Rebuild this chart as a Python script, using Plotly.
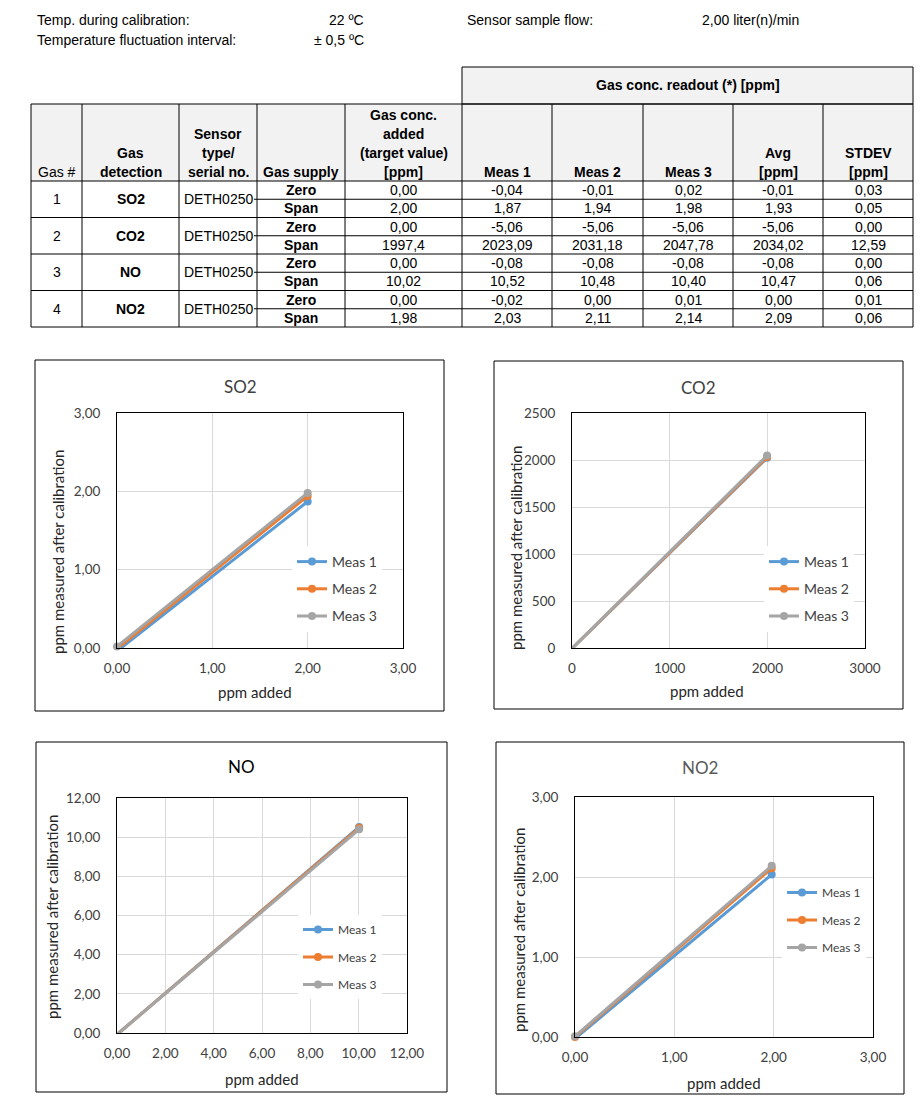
import plotly.graph_objects as go

W, H = 921, 1105


def X(p):
    return p / W


def Y(p):
    return 1 - p / H


# ---------------- data ----------------
info_labels = ["Temp. during calibration:", "Temperature fluctuation interval:"]
info_values = ["22 ºC", "± 0,5 ºC"]
flow_label = "Sensor sample flow:"
flow_value = "2,00 liter(n)/min"

gas_ids = ["1", "2", "3", "4"]
gases = ["SO2", "CO2", "NO", "NO2"]
sensors = ["DETH0250", "DETH0250", "DETH0250", "DETH0250"]
supply = ["Zero", "Span"]

added = [0.00, 2.00, 0.00, 1997.4, 0.00, 10.02, 0.00, 1.98]
meas1 = [-0.04, 1.87, -5.06, 2023.09, -0.08, 10.52, -0.02, 2.03]
meas2 = [-0.01, 1.94, -5.06, 2031.18, -0.08, 10.48, 0.00, 2.11]
meas3 = [0.02, 1.98, -5.06, 2047.78, -0.08, 10.40, 0.01, 2.14]
avg = [-0.01, 1.93, -5.06, 2034.02, -0.08, 10.47, 0.00, 2.09]
stdev = [0.03, 0.05, 0.00, 12.59, 0.00, 0.06, 0.01, 0.06]

series_names = ["Meas 1", "Meas 2", "Meas 3"]
x_max = [3, 3000, 12, 3]
y_max = [3, 2500, 12, 3]
x_step = [1, 1000, 2, 1]
y_step = [1, 500, 2, 1]
x_title = "ppm added"
y_title = "ppm measured after calibration"
readout_title = "Gas conc. readout (*) [ppm]"

# ---------------- styles ----------------
TFONT = "Liberation Sans, Arial, sans-serif"
CFONT = "Lato, Carlito, Calibri, sans-serif"
colors = ["#5B9BD5", "#ED7D31", "#A5A5A5"]
HEADER_FILL = "#F2F2F2"


def fmt2(v):
    return f"{v:.2f}".replace(".", ",")


def fmt_added(v):
    s = f"{v:.1f}" if abs(v) >= 1000 else f"{v:.2f}"
    return s.replace(".", ",")


annotations = []
shapes = []


def txt(x, y, text, size=14, bold=False, xanchor="center", color="#000", family=TFONT, angle=0):
    annotations.append(dict(
        x=X(x), y=Y(y), xref="paper", yref="paper", text=f"<b>{text}</b>" if bold else text,
        showarrow=False, xanchor=xanchor, yanchor="middle", textangle=angle,
        font=dict(family=family, size=size, color=color)))


def line(x0, y0, x1, y1, color="#000", width=1):
    shapes.append(dict(type="line", xref="paper", yref="paper",
                       x0=X(x0), y0=Y(y0), x1=X(x1), y1=Y(y1),
                       line=dict(color=color, width=width)))


def rect(x0, y0, x1, y1, fill=None, color="#000", width=1, layer="above"):
    shapes.append(dict(type="rect", xref="paper", yref="paper",
                       x0=X(x0), y0=Y(y0), x1=X(x1), y1=Y(y1),
                       fillcolor=fill if fill else "rgba(0,0,0,0)",
                       line=dict(color=color, width=width), layer=layer))


# ---------------- top info ----------------
txt(35, 20, info_labels[0], xanchor="left")
txt(35, 40, info_labels[1], xanchor="left")
txt(366, 20, info_values[0], xanchor="right")
txt(366, 40, info_values[1], xanchor="right")
txt(465, 20, flow_label, xanchor="left")
txt(700, 20, flow_value, xanchor="left")

# ---------------- table ----------------
cols = [31, 82, 179, 257, 345, 462, 552, 643, 733, 823, 913]
head_top, head_bot = 104, 181
rh = (327 - 181) / 8
rows = [head_bot + i * rh for i in range(9)]

rect(462, 67, 913, 104, fill=HEADER_FILL, color="rgba(0,0,0,0)", layer="below")
rect(31, 104, 913, 181, fill=HEADER_FILL, color="rgba(0,0,0,0)", layer="below")
rect(462, 67, 913, 104)
rect(31, 104, 913, 327)
for c in cols[1:-1]:
    line(c, head_top, c, 327)
line(31, head_bot, 913, head_bot)
for g in range(1, 4):
    line(31, rows[2 * g], 913, rows[2 * g])
for g in range(4):
    line(254, rows[2 * g + 1], 913, rows[2 * g + 1])

txt((462 + 913) / 2, 85, readout_title, bold=True)


def header_cell(ci, lines, bold=True):
    cx = (cols[ci] + cols[ci + 1]) / 2
    n = len(lines)
    for k, t in enumerate(lines):
        txt(cx, 172 - (n - 1 - k) * 19, t, bold=bold)


header_cell(0, ["Gas #"], bold=False)
header_cell(1, ["Gas", "detection"])
header_cell(2, ["Sensor", "type/", "serial no."])
header_cell(3, ["Gas supply"])
header_cell(4, ["Gas conc.", "added", "(target value)", "[ppm]"])
header_cell(5, ["Meas 1"])
header_cell(6, ["Meas 2"])
header_cell(7, ["Meas 3"])
header_cell(8, ["Avg", "[ppm]"])
header_cell(9, ["STDEV", "[ppm]"])

for g in range(4):
    cy = rows[2 * g + 1]
    txt((cols[0] + cols[1]) / 2, cy, gas_ids[g])
    txt((cols[1] + cols[2]) / 2, cy, gases[g], bold=True)
    txt(218, cy, sensors[g])
for r in range(8):
    cy = (rows[r] + rows[r + 1]) / 2
    txt((cols[3] + cols[4]) / 2, cy, supply[r % 2], bold=True)
    vals = [fmt_added(added[r]), fmt2(meas1[r]), fmt2(meas2[r]), fmt2(meas3[r]),
            fmt2(avg[r]), fmt2(stdev[r])]
    for k, v in enumerate(vals):
        ci = 4 + k
        txt((cols[ci] + cols[ci + 1]) / 2, cy, v)

# ---------------- charts ----------------
charts = [
    dict(frame=(35, 360, 444, 711), plot=(117, 413, 403, 648), title=(240, 386), tcolor="#404040",
         xt=(255, 692), yt=(58, 552), leg=(292, 546), lsize=14, gap=6),
    dict(frame=(494, 361, 903, 709), plot=(572, 413, 865, 648), title=(698, 387), tcolor="#404040",
         xt=(707, 691), yt=(516, 548), leg=(764, 546), lsize=14, gap=6),
    dict(frame=(36, 742, 447, 1092), plot=(117, 798, 407, 1033), title=(241, 766), tcolor="#000000",
         xt=(262, 1079), yt=(52, 917), leg=(298, 915), lsize=12, gap=8.5),
    dict(frame=(496, 742, 904, 1094), plot=(575, 797, 873, 1037), title=(700, 767), tcolor="#595959",
         xt=(724, 1083), yt=(519, 930), leg=(782, 878), lsize=12, gap=8.5),
]

x_data = [[added[2 * g], added[2 * g + 1]] for g in range(4)]
y_data = [[[m[2 * g], m[2 * g + 1]] for m in (meas1, meas2, meas3)] for g in range(4)]

fig = go.Figure()
layout_axes = {}
legends = {}
for g, ch in enumerate(charts):
    sfx = "" if g == 0 else str(g + 1)
    lx0, ly0, lx1, ly1 = ch["plot"]
    legname = "legend" + sfx
    for s in range(3):
        fig.add_trace(go.Scatter(
            x=x_data[g], y=y_data[g][s], name=series_names[s], mode="lines+markers",
            line=dict(color=colors[s], width=3), marker=dict(color=colors[s], size=8),
            xaxis="x" + sfx, yaxis="y" + sfx, legend=legname, legendgroup=f"g{g}s{s}",
            cliponaxis=False))
    fmt = "d" if x_max[g] >= 100 else ".2f"
    yfmt = "d" if y_max[g] >= 100 else ".2f"
    common = dict(showgrid=True, gridcolor="#D9D9D9", gridwidth=1, zeroline=False,
                  showline=True, linecolor="#000", linewidth=1, mirror=True, ticks="",
                  automargin=False,
                  tickfont=dict(family=CFONT, size=13.5, color="#404040"), fixedrange=True)
    layout_axes["xaxis" + sfx] = dict(common, domain=[X(lx0), X(lx1)], range=[0, x_max[g]],
                                      dtick=x_step[g], tick0=0, tickformat=fmt,
                                      anchor="y" + sfx, ticklabelstandoff=8)
    layout_axes["yaxis" + sfx] = dict(common, domain=[Y(ly1), Y(ly0)], range=[0, y_max[g]],
                                      dtick=y_step[g], tick0=0, tickformat=yfmt,
                                      anchor="x" + sfx, ticklabelstandoff=13)
    legends[legname] = dict(x=X(ch["leg"][0]), y=Y(ch["leg"][1]), xanchor="left", yanchor="top",
                            bgcolor="#FFFFFF", borderwidth=0, traceorder="grouped",
                            tracegroupgap=ch["gap"],
                            font=dict(family=CFONT, size=ch["lsize"], color="#404040"))
    fx0, fy0, fx1, fy1 = ch["frame"]
    rect(fx0, fy0, fx1, fy1, color="#000", width=1)
    txt(ch["title"][0], ch["title"][1], gases[g], size=17, color=ch["tcolor"], family=CFONT)
    txt(ch["xt"][0], ch["xt"][1], x_title, size=15, color="#262626", family=CFONT)
    txt(ch["yt"][0], ch["yt"][1], y_title, size=15, color="#262626", family=CFONT, angle=-90)

fig.update_layout(
    width=W, height=H, margin=dict(l=0, r=0, t=0, b=0, autoexpand=False),
    paper_bgcolor="#FFFFFF", plot_bgcolor="#FFFFFF",
    separators=",.", showlegend=True,
    annotations=annotations, shapes=shapes,
    **layout_axes, **legends,
)

fig.write_html("out.html")
